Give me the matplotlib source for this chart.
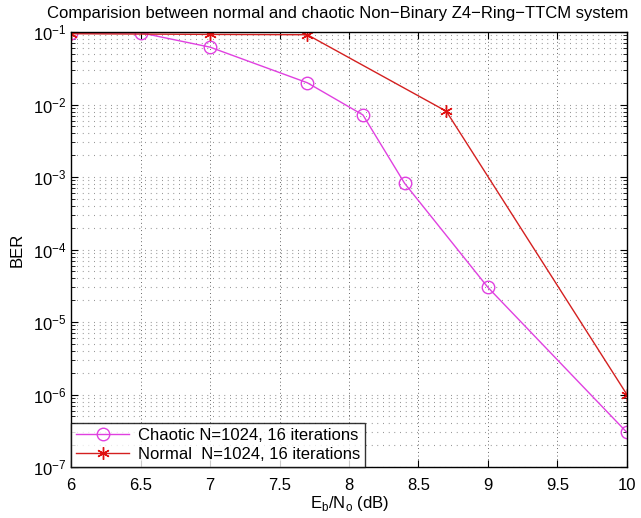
import matplotlib
matplotlib.use("Agg")
import matplotlib.pyplot as plt
from matplotlib.ticker import LogLocator, NullFormatter

# Eb/No (dB) and BER
ebno_chaotic = [6.0, 6.5, 7.0, 7.7, 8.1, 8.4, 9.0, 10.0]
ber_chaotic = [0.097, 0.098, 0.062, 0.020, 0.0072, 8.2e-4, 3.0e-5, 3.0e-7]

ebno_normal = [6.0, 7.0, 7.7, 8.7, 10.0]
ber_normal = [0.095, 0.093, 0.092, 0.0081, 1.0e-6]

x_ticks = [6, 6.5, 7, 7.5, 8, 8.5, 9, 9.5, 10]
x_tick_labels = ["6", "6.5", "7", "7.5", "8", "8.5", "9", "9.5", "10"]

label_chaotic = "Chaotic N=1024, 16 iterations"
label_normal = "Normal  N=1024, 16 iterations"
title = "Comparision between normal and chaotic Non\u2212Binary Z4\u2212Ring\u2212TTCM system"

plt.rcParams["font.family"] = ["Liberation Sans", "DejaVu Sans"]
plt.rcParams["mathtext.fontset"] = "custom"
plt.rcParams["mathtext.rm"] = "Liberation Sans"

fig = plt.figure(figsize=(6.41, 5.18), dpi=100)
ax = fig.add_axes([0.111, 0.0985, 0.867, 0.8395])

ax.semilogy(ebno_chaotic, ber_chaotic, color="#e040e0", lw=1.0, marker="o",
            ms=9, mfc="none", mec="#e040e0", mew=1.0, label=label_chaotic)
ax.semilogy(ebno_normal, ber_normal, color="#d42020", lw=1.0, marker=(6, 2, 0),
            ms=9, mec="#e01010", mew=1.0, label=label_normal)

ax.set_xlim(6, 10)
ax.set_ylim(1e-7, 1e-1)
ax.set_xticks(x_ticks)
ax.set_xticklabels(x_tick_labels)
ax.yaxis.set_major_locator(LogLocator(base=10, numticks=10))
ax.yaxis.set_minor_locator(LogLocator(base=10, subs=range(2, 10), numticks=20))
ax.yaxis.set_minor_formatter(NullFormatter())

dot = (0, (0.6, 4.5))
ax.grid(True, which="major", axis="x", color="#444444", lw=0.7, linestyle=(0, (0.8, 3)))
ax.grid(True, which="major", axis="y", color="#666666", lw=0.8, linestyle=dot)
ax.grid(True, which="minor", axis="y", color="#666666", lw=0.8, linestyle=dot)

ax.tick_params(which="both", direction="in", top=True, right=True, labelsize=12)
ax.tick_params(axis="x", pad=8)
ax.tick_params(which="major", length=5)
ax.tick_params(which="minor", length=3)
for s in ax.spines.values():
    s.set_linewidth(1.0)

ax.set_xlabel("E$_\\mathregular{b}$/N$_\\mathregular{o}$ (dB)", fontsize=12, labelpad=1)
ax.set_ylabel("BER", fontsize=12, labelpad=6)
ax.set_title(title, fontsize=12, pad=10, x=0.479)

leg = ax.legend(loc="lower left", fontsize=12, frameon=True, fancybox=False,
                borderaxespad=0, handlelength=3.2, borderpad=0.3, labelspacing=0.25,
                handletextpad=0.5)
leg.get_frame().set_edgecolor("black")
leg.get_frame().set_linewidth(1.0)

fig.savefig("out.png", dpi=100)
